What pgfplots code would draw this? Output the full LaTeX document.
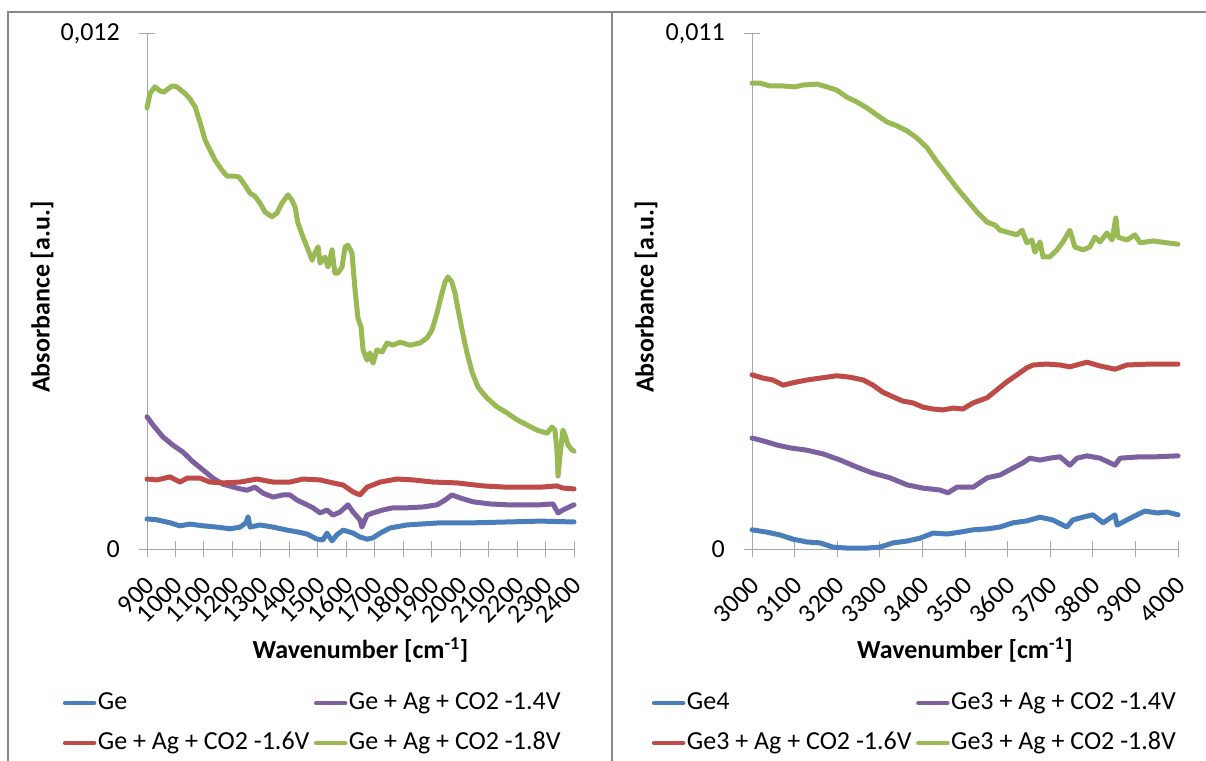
\documentclass[border=0pt]{standalone}
\usepackage{pgfplots}
\pgfplotsset{compat=1.18}
\usepackage{fontspec}
\setmainfont{Carlito}

\definecolor{seriesblue}{HTML}{4A7EBB}
\definecolor{seriesred}{HTML}{BE4B48}
\definecolor{seriespurple}{HTML}{7D60A0}
\definecolor{seriesgreen}{HTML}{98B954}
\definecolor{axisgray}{HTML}{A6A6A6}
\definecolor{framegray}{HTML}{888888}

\newcommand{\chartfont}{\fontsize{26}{31}\selectfont}

\pgfplotsset{
  spectrum/.style={
    scale only axis, height=515pt, anchor=south west,
    axis lines=left,
    axis line style={-, draw=axisgray, line width=1pt},
    tick style={draw=axisgray, line width=1pt},
    tick align=center, major tick length=16pt,
    ymin=0, clip=false, scaled y ticks=false,
    tick label style={font=\chartfont, text=black},
    xticklabel style={inner sep=0pt, yshift=-24pt, xshift=3pt, rotate=45, anchor=east},
    yticklabel style={inner sep=0pt, xshift=-19pt},
    label style={font=\bfseries\chartfont},
    legend columns=2,
    legend cell align=left,
    legend style={draw=none, fill=none, anchor=north west, inner sep=0pt, outer sep=0pt,
      font=\chartfont, nodes={inner sep=1.5pt, text height=19pt, text depth=6pt},
      /tikz/every even column/.append style={column sep=3pt},
      /tikz/row sep=12pt},
    legend image code/.code={\draw[#1, line width=4.5pt, line cap=round] (0pt,0pt) -- (29pt,0pt);},
    every axis plot/.append style={line width=5pt, line join=round, line cap=round, mark=none},
  }
}

\begin{document}
\begin{tikzpicture}[x=1pt,y=1pt]
\clip (0,0) rectangle (1206,760);
% chart frames
\draw[framegray, line width=1.5pt] (8,-10) -- (8,748) -- (1220,748);
\draw[framegray, line width=1.5pt] (612,-10) -- (612,748);

% ---------- fingerprint region ----------
\begin{axis}[spectrum, at={(147pt,211pt)}, width=427pt,
  xmin=900, xmax=2400, ymax=0.012,
  xtick={900,1000,...,2400},
  xticklabels={900,1000,1100,1200,1300,1400,1500,1600,1700,1800,1900,2000,2100,2200,2300,2400},
  ytick={0,0.012}, yticklabels={0,{0,012}},
  xlabel={Wavenumber [cm\textsuperscript{-1}]},
  ylabel={Absorbance [a.u.]},
  xlabel style={at={(axis description cs:0.5,-0.196)}, anchor=center},
  ylabel style={at={(axis description cs:-0.246,0.489)}, anchor=center},
  legend style={at={(axis description cs:-0.197,-0.272)}},
]
\addplot[seriesblue] coordinates {
(900,0.00070)(935,0.00068)(981,0.00061)(1016,0.00054)(1051,0.00058)(1097,0.00054)
(1146,0.00051)(1192,0.00047)(1227,0.00051)(1248,0.00061)(1255,0.00075)(1262,0.00051)
(1297,0.00056)(1343,0.00051)(1392,0.00044)(1427,0.00040)(1462,0.00035)(1497,0.00023)
(1518,0.00021)(1532,0.00037)(1550,0.00019)(1567,0.00033)(1589,0.00044)(1624,0.00037)
(1648,0.00028)(1673,0.00023)(1694,0.00026)(1719,0.00037)(1754,0.00049)(1813,0.00056)
(1929,0.00061)(2045,0.00061)(2165,0.00063)(2281,0.00065)(2400,0.00063)};
\addlegendentry{Ge}
\addplot[seriespurple] coordinates {
(900,0.00308)(921,0.00289)(956,0.00261)(991,0.00242)(1026,0.00226)(1062,0.00203)
(1097,0.00184)(1132,0.00165)(1167,0.00151)(1216,0.00142)(1251,0.00137)(1279,0.00144)
(1308,0.00130)(1343,0.00121)(1378,0.00126)(1402,0.00126)(1427,0.00114)(1462,0.00103)
(1483,0.00096)(1508,0.00084)(1532,0.00091)(1553,0.00079)(1578,0.00086)(1606,0.00103)
(1624,0.00086)(1648,0.00068)(1655,0.00051)(1673,0.00079)(1694,0.00084)(1729,0.00091)
(1764,0.00096)(1813,0.00096)(1870,0.00098)(1919,0.00103)(1947,0.00114)(1971,0.00126)
(2000,0.00119)(2045,0.00110)(2105,0.00105)(2165,0.00103)(2221,0.00103)(2281,0.00103)
(2326,0.00105)(2344,0.00084)(2361,0.00091)(2400,0.00103)};
\addlegendentry{Ge + Ag + CO2 -1.4V}
\addplot[seriesred] coordinates {
(900,0.00163)(935,0.00161)(981,0.00168)(1016,0.00156)(1041,0.00165)(1086,0.00165)
(1121,0.00156)(1167,0.00154)(1227,0.00156)(1286,0.00163)(1343,0.00156)(1402,0.00156)
(1448,0.00163)(1508,0.00161)(1553,0.00154)(1589,0.00149)(1624,0.00133)(1648,0.00126)
(1673,0.00144)(1719,0.00156)(1778,0.00163)(1834,0.00161)(1905,0.00156)(1989,0.00154)
(2080,0.00147)(2165,0.00144)(2281,0.00144)(2340,0.00147)(2361,0.00142)(2400,0.00140)};
\addlegendentry{Ge + Ag + CO2 -1.6V}
\addplot[seriesgreen] coordinates {
(900,0.01028)(911,0.01062)(928,0.01077)(946,0.01067)(960,0.01065)(988,0.01079)
(1005,0.01077)(1023,0.01067)(1033,0.01062)(1051,0.01049)(1069,0.01030)(1086,0.00995)
(1104,0.00953)(1121,0.00930)(1139,0.00906)(1163,0.00883)(1181,0.00869)(1202,0.00869)
(1223,0.00867)(1244,0.00848)(1262,0.00829)(1279,0.00822)(1297,0.00806)(1315,0.00785)
(1339,0.00774)(1357,0.00783)(1374,0.00806)(1395,0.00825)(1409,0.00813)(1420,0.00797)
(1430,0.00760)(1448,0.00727)(1462,0.00704)(1480,0.00673)(1490,0.00690)(1501,0.00704)
(1508,0.00666)(1525,0.00680)(1536,0.00657)(1550,0.00697)(1560,0.00643)(1571,0.00643)
(1585,0.00657)(1596,0.00704)(1606,0.00708)(1620,0.00690)(1631,0.00603)(1641,0.00538)
(1652,0.00517)(1659,0.00464)(1673,0.00440)(1683,0.00457)(1694,0.00433)(1708,0.00464)
(1726,0.00459)(1743,0.00480)(1764,0.00475)(1789,0.00482)(1824,0.00475)(1859,0.00480)
(1884,0.00492)(1901,0.00510)(1919,0.00550)(1936,0.00596)(1947,0.00622)(1957,0.00634)
(1971,0.00622)(1982,0.00596)(1993,0.00557)(2007,0.00510)(2024,0.00457)(2042,0.00412)
(2063,0.00377)(2094,0.00352)(2130,0.00331)(2165,0.00317)(2200,0.00301)(2235,0.00289)
(2270,0.00277)(2305,0.00270)(2323,0.00284)(2333,0.00277)(2340,0.00231)(2344,0.00170)
(2351,0.00219)(2361,0.00277)(2368,0.00266)(2379,0.00242)(2393,0.00231)(2400,0.00228)};
\addlegendentry{Ge + Ag + CO2 -1.8V}
\end{axis}

% ---------- high-wavenumber region ----------
\begin{axis}[spectrum, at={(752pt,211pt)}, width=426pt,
  xmin=3000, xmax=4000, ymax=0.011,
  xtick={3000,3100,...,4000},
  xticklabels={3000,3100,3200,3300,3400,3500,3600,3700,3800,3900,4000},
  ytick={0,0.011}, yticklabels={0,{0,011}},
  xlabel={Wavenumber [cm\textsuperscript{-1}]},
  ylabel={Absorbance [a.u.]},
  xlabel style={at={(axis description cs:0.5,-0.196)}, anchor=center},
  ylabel style={at={(axis description cs:-0.249,0.489)}, anchor=center},
  legend style={at={(axis description cs:-0.235,-0.272)}},
]
\addplot[seriesblue] coordinates {
(3000,0.00041)(3035,0.00036)(3066,0.00030)(3096,0.00021)(3129,0.00015)(3160,0.00013)
(3190,0.00004)(3223,0.00002)(3270,0.00002)(3300,0.00004)(3331,0.00013)(3364,0.00017)
(3394,0.00023)(3425,0.00034)(3458,0.00032)(3488,0.00036)(3519,0.00041)(3552,0.00043)
(3582,0.00047)(3613,0.00056)(3645,0.00060)(3676,0.00068)(3706,0.00062)(3739,0.00047)
(3753,0.00062)(3777,0.00068)(3800,0.00073)(3824,0.00056)(3852,0.00073)(3857,0.00051)
(3880,0.00062)(3904,0.00073)(3922,0.00081)(3951,0.00077)(3974,0.00079)(4000,0.00073)};
\addlegendentry{Ge4}
\addplot[seriespurple] coordinates {
(3000,0.00237)(3026,0.00231)(3059,0.00222)(3089,0.00216)(3129,0.00211)(3167,0.00203)
(3207,0.00190)(3246,0.00175)(3284,0.00162)(3324,0.00152)(3364,0.00137)(3401,0.00130)
(3441,0.00126)(3460,0.00120)(3481,0.00132)(3519,0.00132)(3552,0.00152)(3582,0.00158)
(3613,0.00173)(3636,0.00184)(3652,0.00194)(3676,0.00190)(3699,0.00194)(3723,0.00197)
(3746,0.00179)(3763,0.00194)(3786,0.00199)(3817,0.00194)(3852,0.00179)(3864,0.00194)
(3911,0.00197)(3951,0.00197)(4000,0.00199)};
\addlegendentry{Ge3 + Ag + CO2 -1.4V}
\addplot[seriesred] coordinates {
(3000,0.00372)(3026,0.00365)(3049,0.00361)(3073,0.00350)(3096,0.00355)(3129,0.00361)
(3160,0.00365)(3199,0.00370)(3230,0.00367)(3261,0.00361)(3284,0.00350)(3307,0.00335)
(3331,0.00325)(3354,0.00316)(3378,0.00312)(3401,0.00303)(3425,0.00299)(3448,0.00297)
(3472,0.00301)(3495,0.00299)(3519,0.00312)(3552,0.00323)(3575,0.00340)(3598,0.00357)
(3622,0.00372)(3645,0.00387)(3660,0.00393)(3692,0.00395)(3723,0.00393)(3746,0.00389)
(3786,0.00399)(3817,0.00391)(3852,0.00384)(3880,0.00393)(3934,0.00395)(4000,0.00395)};
\addlegendentry{Ge3 + Ag + CO2 -1.6V}
\addplot[seriesgreen] coordinates {
(3000,0.00995)(3019,0.00995)(3042,0.00989)(3073,0.00989)(3101,0.00987)(3120,0.00991)
(3153,0.00993)(3176,0.00987)(3199,0.00980)(3223,0.00965)(3246,0.00955)(3270,0.00942)
(3293,0.00927)(3317,0.00912)(3340,0.00904)(3364,0.00893)(3387,0.00878)(3411,0.00857)
(3434,0.00827)(3458,0.00799)(3481,0.00771)(3505,0.00745)(3528,0.00720)(3552,0.00698)
(3570,0.00692)(3582,0.00681)(3598,0.00677)(3622,0.00671)(3634,0.00681)(3645,0.00654)
(3657,0.00660)(3664,0.00634)(3676,0.00656)(3683,0.00624)(3699,0.00624)(3716,0.00639)
(3730,0.00656)(3746,0.00681)(3758,0.00645)(3777,0.00639)(3793,0.00645)(3805,0.00666)
(3817,0.00656)(3833,0.00675)(3845,0.00660)(3854,0.00707)(3859,0.00666)(3880,0.00660)
(3899,0.00671)(3911,0.00654)(3941,0.00658)(3974,0.00654)(4000,0.00651)};
\addlegendentry{Ge3 + Ag + CO2 -1.8V}
\end{axis}
\end{tikzpicture}
\end{document}
